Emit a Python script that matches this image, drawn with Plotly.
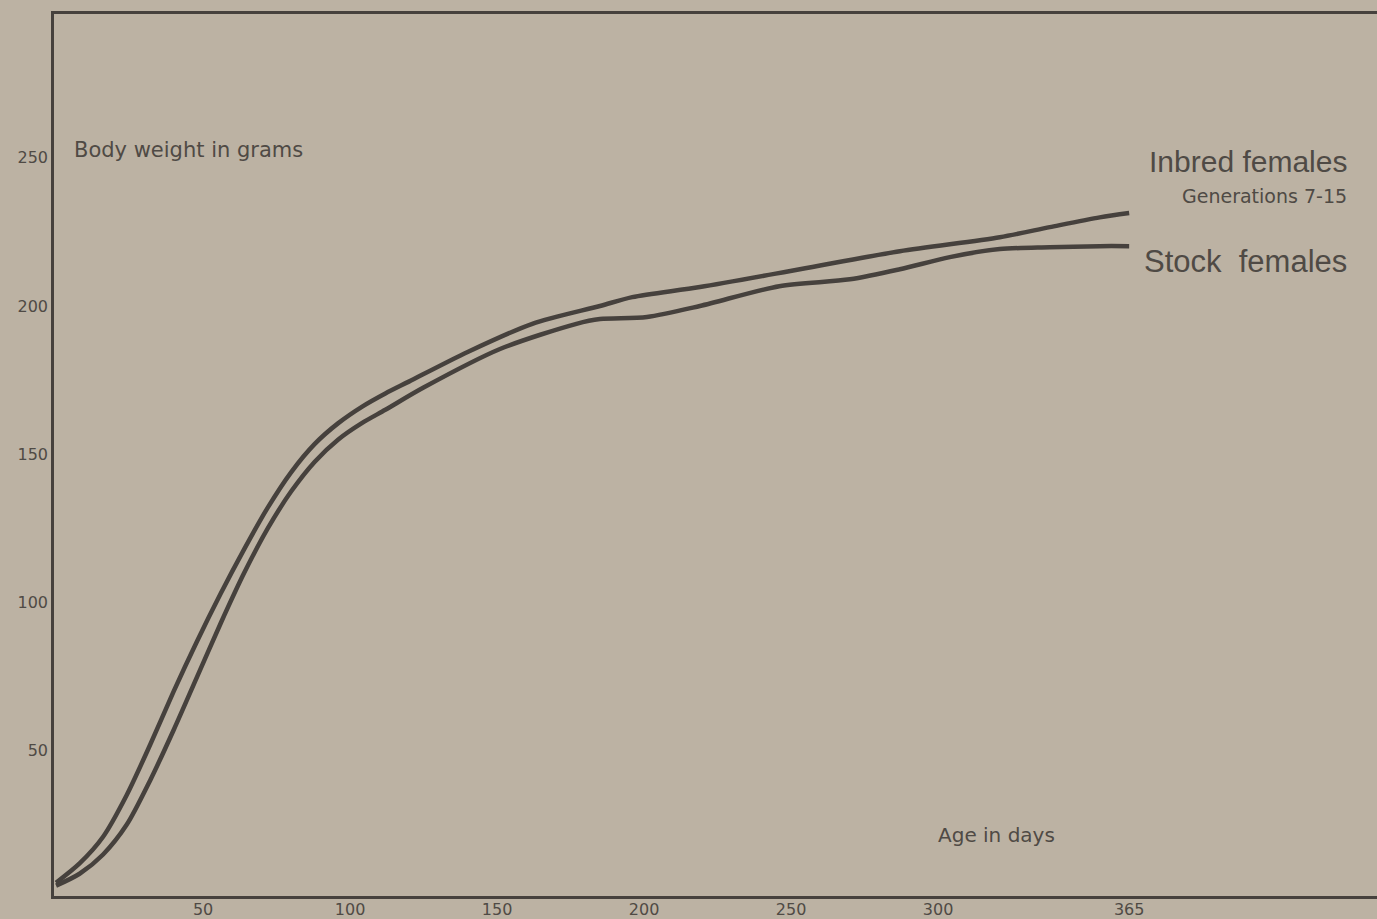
"""
Growth of inbred vs stock female rats, body weight by age.
Redrawn from an old printed figure (scanned page tones).
"""

import plotly.graph_objs as go

# palette
_INK = "#46413d"
_TEXT = "#4f4a45"
_PAPER = "#bcb2a3"

# Inbred females, generations 7-15
inbred_days = [0, 8, 16, 24, 32, 40, 48, 56, 64, 72, 80, 88, 96, 104, 112,
               120, 140, 162, 185, 196, 219, 253, 287, 321, 338, 355, 365]
inbred_grams = [5.5, 12, 21, 35, 52, 70, 87, 103, 118, 132, 144, 153.5,
                160.5, 166, 170.5, 174.5, 184.5, 194, 200, 203, 206.4, 212.4,
                218.5, 223.2, 226.6, 229.9, 231.4]

# Stock females
stock_days = [0, 8, 16, 24, 32, 40, 48, 56, 64, 72, 80, 88, 96, 104, 112,
              125, 151, 177, 185, 201, 219, 246, 270, 287, 304, 321, 338,
              355, 365]
stock_grams = [4.5, 8.5, 15, 25, 40, 57, 75, 93, 110, 125, 137.5, 147.5,
               155, 160.5, 165, 172.5, 185.5, 194, 195.6, 196.3, 200, 206.7,
               209, 212.4, 216.5, 219.2, 219.8, 220.2, 220.2]

x_ticks = [50, 100, 150, 200, 250, 300, 365]
y_ticks = [50, 100, 150, 200, 250]

fig = go.Figure()
for days, grams in [(inbred_days, inbred_grams), (stock_days, stock_grams)]:
    fig.add_trace(go.Scatter(
        x=days, y=grams,
        mode="lines",
        line=dict(color=_INK, width=4.5, shape="spline", smoothing=0.8),
        showlegend=False,
        hoverinfo="skip",
    ))

tick_font = dict(family="DejaVu Sans, sans-serif", size=16, color=_TEXT)

fig.update_layout(
    width=1377,
    height=919,
    plot_bgcolor=_PAPER,
    paper_bgcolor=_PAPER,
    font=dict(family="Liberation Sans, Arial, sans-serif", color=_TEXT),
    margin=dict(l=54, r=0, t=14, b=20),
    xaxis=dict(
        range=[-0.7, 449.3],
        tickvals=x_ticks,
        ticktext=[str(v) for v in x_ticks],
        showgrid=False, zeroline=False,
        showline=True, linecolor=_INK, linewidth=2.5, mirror=True,
        ticks="", tickfont=tick_font, ticklabelstandoff=-3,
    ),
    yaxis=dict(
        range=[1, 298.5],
        tickvals=y_ticks,
        ticktext=[str(v) for v in y_ticks],
        showgrid=False, zeroline=False,
        showline=True, linecolor=_INK, linewidth=2.5,
        ticks="", tickfont=tick_font,
    ),
)

# (text, x px, y px, size, anchor, family)
notes = [
    ("Body weight in grams", 72, 150, 21, "left", "DejaVu Sans"),
    ("Inbred females", 1349, 162, 30, "right", "Liberation Sans"),
    ("Generations 7-15", 1349, 197, 19, "right", "DejaVu Sans"),
    ("Stock\u00a0 females", 1349, 262, 31, "right", "Liberation Sans"),
    ("Age in days", 996, 838, 20, "center", "DejaVu Sans"),
]
for txt, px, py, size, anchor, fam in notes:
    fig.add_annotation(
        text=txt, xref="paper", yref="paper",
        x=(px - 54) / 1323, y=1 - (py - 14) / 885,
        xanchor=anchor, yanchor="middle", showarrow=False,
        font=dict(size=size, color=_TEXT, family=fam),
    )

fig.write_html(
    "out.html",
    config={"displayModeBar": False},
    post_script="document.body.style.margin='0';"
                "document.body.style.background='#bcb2a3';",
)
